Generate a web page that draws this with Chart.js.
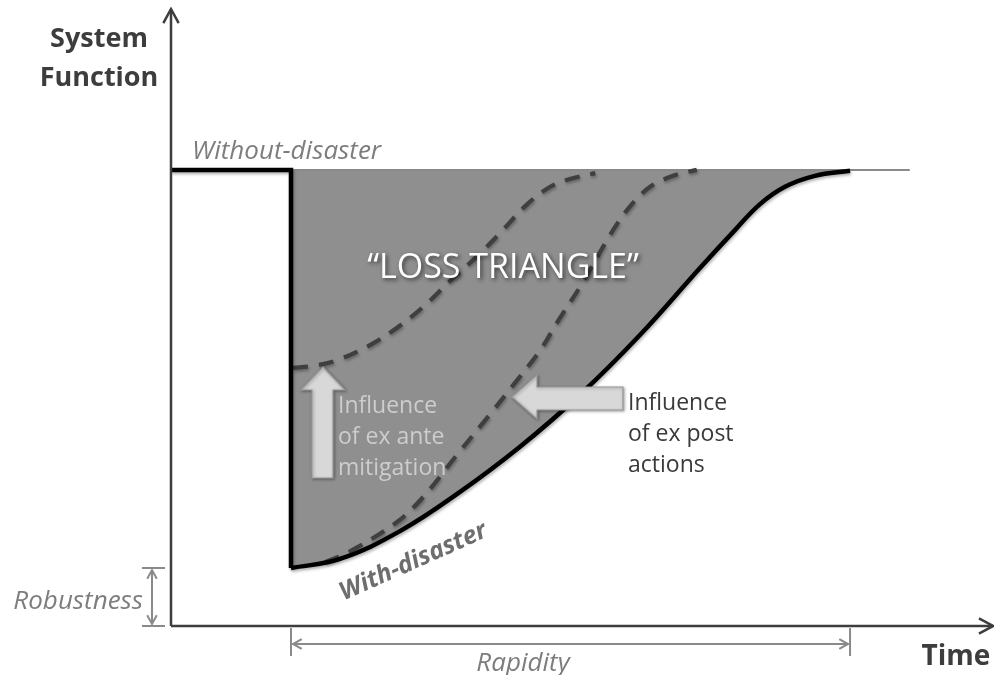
<!DOCTYPE html>
<html>
<head>
<meta charset="utf-8">
<script src="https://cdn.jsdelivr.net/npm/chart.js@4.4.0/dist/chart.umd.min.js"></script>
<style>
	html, body { margin: 0; padding: 0; background: #fff; }
	#wrap { width: 994px; height: 675px; position: relative; }
</style>
</head>
<body>
<div id="wrap"><canvas id="chart" width="994" height="675"></canvas></div>
<script>
// system function over time (100 = normal functioning)
const baselineX = [0, 90.2];
const baselineY = [100, 100];
const shockX = [0, 14.65, 14.65];
const shockY = [100, 100, 12.7];
const withDisasterX = [14.65, 20.63, 27.96, 35.29, 42.61, 49.94, 57.26, 64.59, 68.86, 71.92, 74.97, 78.63, 82.91];
const withDisasterY = [12.7, 14.7, 20.8, 29.4, 39.3, 50.7, 63.8, 78.5, 86.8, 92.5, 96.3, 98.7, 99.8];
const exAnteX = [14.9, 17.3, 20.3, 24.3, 27.6, 30.8, 34.1, 37.4, 40.2, 43.5, 46.3, 48.7, 51.8];
const exAnteY = [56.6, 57.0, 58.3, 61.6, 65.4, 70.0, 75.7, 81.1, 86.2, 92.5, 96.3, 98.0, 99.3];
const exPostX = [18.8, 21.9, 27.6, 30.8, 34.9, 38.9, 42.0, 45.1, 47.1, 50.3, 53.6, 56.0, 58.5, 61.3, 64.2];
const exPostY = [14.0, 16.4, 22.8, 28.3, 37.5, 46.3, 53.3, 60.5, 66.4, 75.4, 85.7, 91.9, 96.3, 98.7, 100];

const toPoints = (xs, ys) => xs.map((x, i) => ({ x: x, y: ys[i] }));

const FONT = "'Open Sans', Lato, sans-serif";

function arrowHead(ctx, x, y, dx, dy, size) {
	// open chevron head pointing in direction (dx, dy)
	const a = Math.atan2(dy, dx);
	ctx.beginPath();
	ctx.moveTo(x - size * Math.cos(a - 0.5), y - size * Math.sin(a - 0.5));
	ctx.lineTo(x, y);
	ctx.lineTo(x - size * Math.cos(a + 0.5), y - size * Math.sin(a + 0.5));
	ctx.stroke();
}

const decorations = {
	id: "decorations",
	afterDatasetsDraw(chart) {
		const ctx = chart.ctx;
		const xs = chart.scales.x;
		const ys = chart.scales.y;
		const area = chart.chartArea;
		const x0 = xs.getPixelForValue(0);
		const y0 = ys.getPixelForValue(0);

		ctx.save();
		ctx.lineCap = "butt";

		// axes
		ctx.strokeStyle = "#3d3d3d";
		ctx.lineWidth = 2.5;
		ctx.beginPath();
		ctx.moveTo(x0, y0);
		ctx.lineTo(x0, area.top + 1);
		ctx.moveTo(x0, y0);
		ctx.lineTo(area.right + 3, y0);
		ctx.stroke();
		arrowHead(ctx, x0, area.top + 1, 0, -1, 16);
		arrowHead(ctx, area.right + 3, y0, 1, 0, 16);

		// robustness marker
		const yLow = ys.getPixelForValue(Math.min(...shockY));
		ctx.strokeStyle = "#8a8a8a";
		ctx.lineWidth = 2;
		ctx.beginPath();
		ctx.moveTo(x0 - 29, yLow); ctx.lineTo(x0 - 6, yLow);
		ctx.moveTo(x0 - 29, y0); ctx.lineTo(x0 - 6, y0);
		ctx.moveTo(x0 - 19, yLow + 2); ctx.lineTo(x0 - 19, y0 - 2);
		ctx.stroke();
		arrowHead(ctx, x0 - 19, yLow + 2, 0, -1, 10);
		arrowHead(ctx, x0 - 19, y0 - 2, 0, 1, 10);

		// rapidity marker
		const xs0 = xs.getPixelForValue(shockX[shockX.length - 1]);
		const xs1 = xs.getPixelForValue(withDisasterX[withDisasterX.length - 1]);
		const yr = y0 + 18;
		ctx.beginPath();
		ctx.moveTo(xs0, y0 + 2); ctx.lineTo(xs0, y0 + 30);
		ctx.moveTo(xs1, y0 + 2); ctx.lineTo(xs1, y0 + 30);
		ctx.moveTo(xs0 + 2, yr); ctx.lineTo(xs1 - 2, yr);
		ctx.stroke();
		arrowHead(ctx, xs0 + 2, yr, -1, 0, 10);
		arrowHead(ctx, xs1 - 2, yr, 1, 0, 10);

		// block arrows
		ctx.fillStyle = "#d8d8d8";
		ctx.strokeStyle = "#9a9a9a";
		ctx.lineWidth = 1.2;
		ctx.shadowColor = "rgba(0,0,0,0.35)";
		ctx.shadowBlur = 3;
		ctx.shadowOffsetX = 1;
		ctx.shadowOffsetY = 1;
		ctx.beginPath();
		ctx.moveTo(323, 367);
		ctx.lineTo(345, 390);
		ctx.lineTo(333, 390);
		ctx.lineTo(333, 478);
		ctx.lineTo(312, 478);
		ctx.lineTo(312, 390);
		ctx.lineTo(301, 390);
		ctx.closePath();
		ctx.fill();
		ctx.stroke();

		ctx.beginPath();
		ctx.moveTo(512, 397);
		ctx.lineTo(537, 375);
		ctx.lineTo(537, 387);
		ctx.lineTo(623, 387);
		ctx.lineTo(623, 410);
		ctx.lineTo(537, 410);
		ctx.lineTo(537, 419);
		ctx.closePath();
		ctx.fill();
		ctx.stroke();

		// texts
		ctx.shadowColor = "transparent";
		ctx.textBaseline = "alphabetic";

		ctx.fillStyle = "#3d3d3d";
		ctx.textAlign = "center";
		ctx.font = "bold 27px " + FONT;
		ctx.fillText("System", 99, 47);
		ctx.fillText("Function", 99, 86);
		ctx.font = "bold 28px " + FONT;
		ctx.fillText("Time", 956, 665);

		ctx.fillStyle = "#7d7d7d";
		ctx.font = "italic 26px " + FONT;
		ctx.textAlign = "left";
		ctx.fillText("Without-disaster", 192, 159);
		ctx.textAlign = "right";
		ctx.fillText("Robustness", 143, 609);
		ctx.textAlign = "center";
		ctx.fillText("Rapidity", 523, 671);

		ctx.textAlign = "left";
		ctx.fillStyle = "#cdcdcd";
		ctx.font = "23px " + FONT;
		ctx.fillText("Influence", 338, 413);
		ctx.fillText("of ex ante", 338, 444);
		ctx.fillText("mitigation", 338, 475);

		ctx.fillStyle = "#3a3a3a";
		ctx.fillText("Influence", 628, 410);
		ctx.fillText("of ex post", 628, 441);
		ctx.fillText("actions", 628, 472);

		ctx.save();
		ctx.shadowColor = "rgba(0,0,0,0.6)";
		ctx.shadowBlur = 4;
		ctx.shadowOffsetX = 2;
		ctx.shadowOffsetY = 2;
		ctx.fillStyle = "#ffffff";
		ctx.textAlign = "center";
		ctx.font = "34px " + FONT;
		ctx.fillText("\u201cLOSS TRIANGLE\u201d", 503, 278);
		ctx.restore();

		ctx.save();
		ctx.translate(413, 561);
		ctx.rotate(-24 * Math.PI / 180);
		ctx.fillStyle = "#6e6e6e";
		ctx.textAlign = "center";
		ctx.font = "italic bold 25px " + FONT;
		ctx.fillText("With-disaster", 0, 8);
		ctx.restore();

		ctx.restore();
	}
};

const lineShadow = {
	id: "lineShadow",
	beforeDatasetDraw(chart, args) {
		const ctx = chart.ctx;
		ctx.save();
		if (args.meta.dataset && chart.data.datasets[args.index].shadow) {
			ctx.shadowColor = "rgba(0,0,0,0.3)";
			ctx.shadowBlur = 3;
			ctx.shadowOffsetX = 1;
			ctx.shadowOffsetY = 2;
		}
	},
	afterDatasetDraw(chart) {
		chart.ctx.restore();
	}
};

new Chart(document.getElementById("chart"), {
	type: "line",
	data: {
		datasets: [
			{
				label: "shock",
				data: toPoints(shockX, shockY),
				borderColor: "#000",
				borderWidth: 4.5,
				tension: 0,
				borderJoinStyle: "miter",
				shadow: true
			},
			{
				label: "With-disaster",
				data: toPoints(withDisasterX, withDisasterY),
				borderColor: "#000",
				borderWidth: 4.5,
				tension: 0.4,
				backgroundColor: "#8f8f8f",
				fill: { value: 100 },
				shadow: true
			},
			{
				label: "ex ante",
				data: toPoints(exAnteX, exAnteY),
				borderColor: "#3f3f3f",
				borderWidth: 4.2,
				borderDash: [15, 11],
				tension: 0.35,
				shadow: true
			},
			{
				label: "ex post",
				data: toPoints(exPostX, exPostY),
				borderColor: "#3f3f3f",
				borderWidth: 4.2,
				borderDash: [15, 11],
				tension: 0.35,
				shadow: true
			},
			{
				label: "Without-disaster",
				data: toPoints(baselineX, baselineY),
				borderColor: "#8a8a8a",
				borderWidth: 2,
				tension: 0
			}
		]
	},
	options: {
		responsive: false,
		animation: false,
		layout: { padding: { left: 171, right: 4, top: 8, bottom: 49 } },
		elements: { point: { radius: 0 } },
		scales: {
			x: { type: "linear", min: 0, max: 100, display: false },
			y: { type: "linear", min: 0, max: 135.5, display: false }
		},
		plugins: {
			legend: { display: false },
			tooltip: { enabled: false },
			filler: { drawTime: "beforeDatasetsDraw" }
		}
	},
	plugins: [lineShadow, decorations]
});
</script>
</body>
</html>
